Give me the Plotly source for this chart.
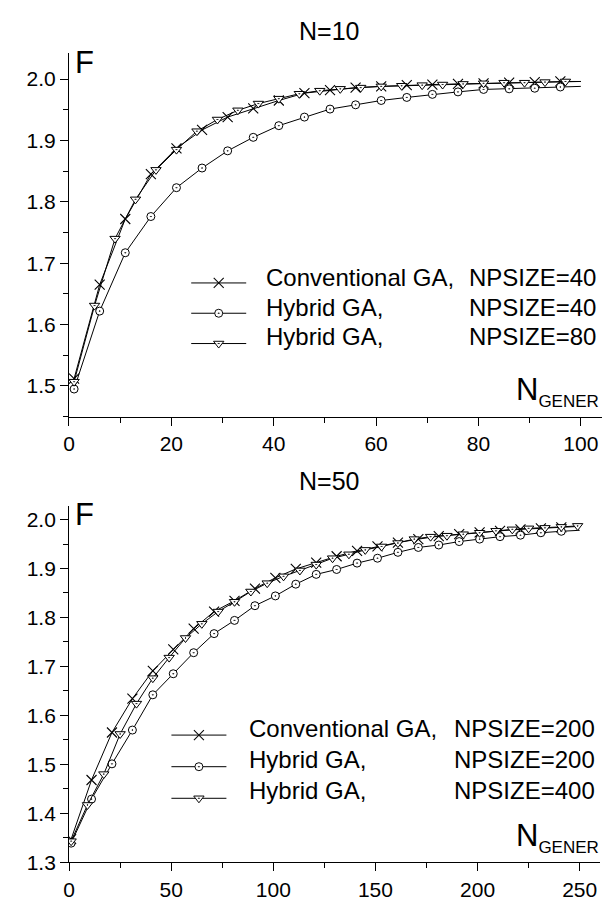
import plotly.graph_objects as go

# ---------------- data ----------------
# Top panel, N=10
top_conv_x = [1, 6, 11, 16, 21, 26, 31, 36, 41, 46, 51, 56, 61, 66, 71, 76, 81, 86, 91, 96, 100]
top_conv_F = [1.512, 1.665, 1.772, 1.845, 1.887, 1.917, 1.938, 1.952, 1.965, 1.977, 1.982, 1.986,
              1.988, 1.990, 1.991, 1.992, 1.993, 1.994, 1.995, 1.996, 1.996]
top_hyb_x = [1, 6, 11, 16, 21, 26, 31, 36, 41, 46, 51, 56, 61, 66, 71, 76, 81, 86, 91, 96, 100]
top_hyb_F = [1.495, 1.622, 1.717, 1.776, 1.823, 1.855, 1.883, 1.905, 1.924, 1.938, 1.951, 1.958,
             1.965, 1.970, 1.975, 1.979, 1.983, 1.984, 1.985, 1.987, 1.988]
top_hyb2_x = [1, 5, 9, 13, 17, 21, 25, 29, 33, 37, 41, 45, 49, 53, 57, 61, 65, 69, 73, 77, 81, 85,
              89, 93, 97, 100]
top_hyb2_F = [1.507, 1.631, 1.740, 1.804, 1.852, 1.885, 1.915, 1.934, 1.949, 1.960, 1.968, 1.976,
              1.981, 1.984, 1.986, 1.988, 1.989, 1.990, 1.991, 1.992, 1.993, 1.994, 1.994, 1.995,
              1.996, 1.996]

# Bottom panel, N=50
bot_conv_x = [1, 11, 21, 31, 41, 51, 61, 71, 81, 91, 101, 111, 121, 131, 141, 151, 161, 171, 181,
              191, 201, 211, 221, 231, 241, 250]
bot_conv_F = [1.347, 1.468, 1.565, 1.634, 1.691, 1.735, 1.777, 1.812, 1.834, 1.859, 1.881, 1.899,
              1.912, 1.925, 1.936, 1.945, 1.953, 1.960, 1.966, 1.970, 1.974, 1.977, 1.980, 1.982,
              1.984, 1.986]
bot_hyb_x = [1, 11, 21, 31, 41, 51, 61, 71, 81, 91, 101, 111, 121, 131, 141, 151, 161, 171, 181,
             191, 201, 211, 221, 231, 241, 250]
bot_hyb_F = [1.339, 1.429, 1.501, 1.570, 1.642, 1.685, 1.728, 1.767, 1.794, 1.824, 1.844, 1.868,
             1.888, 1.898, 1.911, 1.921, 1.933, 1.943, 1.948, 1.955, 1.960, 1.965, 1.968, 1.973,
             1.976, 1.978]
bot_hyb2_x = [1, 9, 17, 25, 33, 41, 49, 57, 65, 73, 81, 89, 97, 105, 113, 121, 129, 137, 145, 153,
              161, 169, 177, 185, 193, 201, 209, 217, 225, 233, 241, 249, 250]
bot_hyb2_F = [1.343, 1.417, 1.480, 1.562, 1.624, 1.676, 1.718, 1.758, 1.787, 1.812, 1.832, 1.853,
              1.870, 1.884, 1.896, 1.908, 1.921, 1.929, 1.938, 1.945, 1.952, 1.960, 1.965, 1.967,
              1.970, 1.973, 1.977, 1.980, 1.982, 1.983, 1.985, 1.987, 1.987]

top_labels = ["Conventional GA,", "Hybrid GA,", "Hybrid GA,"]
top_sizes = ["NPSIZE=40", "NPSIZE=40", "NPSIZE=80"]
bot_labels = ["Conventional GA,", "Hybrid GA,", "Hybrid GA,"]
bot_sizes = ["NPSIZE=200", "NPSIZE=200", "NPSIZE=400"]

# ---------------- layout helpers ----------------
W, H = 612, 913
FONT = "Liberation Sans, Arial, Helvetica, sans-serif"


def fx(p):
    return p / W


def fy(p):
    return (H - p) / H


STYLES = [
    dict(symbol="x-thin", size=10, color="black", line=dict(width=1.1, color="black")),
    dict(symbol="circle-dot", size=8, color="white", line=dict(width=1, color="black")),
    dict(symbol="triangle-down-dot", size=9, color="white", line=dict(width=1, color="black")),
]

fig = go.Figure()

panels = [
    ("x", "y", "legend", [(top_conv_x, top_conv_F), (top_hyb_x, top_hyb_F), (top_hyb2_x, top_hyb2_F)],
     top_labels, 100),
    ("x2", "y2", "legend2", [(bot_conv_x, bot_conv_F), (bot_hyb_x, bot_hyb_F), (bot_hyb2_x, bot_hyb2_F)],
     bot_labels, 250),
]

for xa, ya, lg, series, labels, xend in panels:
    for (xs, ys), st, lab in zip(series, STYLES, labels):
        op = [1] * len(xs)
        # trailing line end (x = axis end) carries no marker
        if xs[-1] == xend and (xs[-1] - xs[-2]) < (xs[1] - xs[0]):
            op[-1] = 0
        m = dict(st)
        m["opacity"] = op
        fig.add_trace(go.Scatter(
            x=xs, y=ys, mode="lines+markers", xaxis=xa, yaxis=ya, legend=lg,
            name="\u00a0", meta=lab,
            line=dict(color="black", width=1), marker=m,
        ))

axis_common = dict(
    showline=True, linecolor="black", linewidth=1, mirror=False,
    ticks="outside", tickcolor="black", tickwidth=1, ticklen=8,
    showgrid=False, zeroline=False,
    tickfont=dict(family=FONT, size=21, color="black"),
)

fig.update_layout(
    width=W, height=H,
    margin=dict(l=0, r=0, t=0, b=0),
    paper_bgcolor="white", plot_bgcolor="white",
    font=dict(family=FONT, color="black"),
    xaxis=dict(axis_common, domain=[fx(63.6), fx(601.7)], range=[0, 104.1], tick0=0, dtick=20,
               anchor="y",
               minor=dict(dtick=10, ticks="outside", ticklen=5, tickcolor="black", showgrid=False)),
    yaxis=dict(axis_common, domain=[fy(422), fy(54)], range=[1.4496, 2.0418], tick0=0, dtick=0.1,
               tickformat=".1f", anchor="x",
               minor=dict(dtick=0.05, ticks="outside", ticklen=5, tickcolor="black", showgrid=False)),
    xaxis2=dict(axis_common, domain=[fx(63.7), fx(600)], range=[0, 260], tick0=0, dtick=50,
                anchor="y2",
                minor=dict(dtick=25, ticks="outside", ticklen=5, tickcolor="black", showgrid=False)),
    yaxis2=dict(axis_common, domain=[fy(873), fy(512)], range=[1.2995, 2.028], tick0=0, dtick=0.1,
                tickformat=".1f", anchor="x2",
                minor=dict(dtick=0.05, ticks="outside", ticklen=5, tickcolor="black", showgrid=False)),
    legend=dict(x=fx(182), y=fy(266), xanchor="left", yanchor="top", bgcolor="rgba(0,0,0,0)",
                font=dict(family=FONT, size=21), tracegroupgap=0, itemwidth=55),
    legend2=dict(x=fx(162), y=fy(723), xanchor="left", yanchor="top", bgcolor="rgba(0,0,0,0)",
                 font=dict(family=FONT, size=22), tracegroupgap=0, itemwidth=55),
    showlegend=True,
)

ann = []
# titles
ann.append(dict(text="N=10", x=fx(326), y=fy(31), xref="paper", yref="paper", showarrow=False,
                font=dict(family=FONT, size=25), xanchor="center", yanchor="middle"))
ann.append(dict(text="N=50", x=fx(326), y=fy(487), xref="paper", yref="paper", showarrow=False,
                font=dict(family=FONT, size=25), xanchor="center", yanchor="middle"))
# F labels
for yc in (63, 521):
    ann.append(dict(text="F", x=fx(68), y=fy(yc), xref="paper", yref="paper", showarrow=False,
                    font=dict(family=FONT, size=31), xanchor="left", yanchor="middle"))
# N_GENER labels
for yb in (418, 869):
    ann.append(dict(text="N<sub><span style='font-size:17px'>GENER</span></sub>", x=fx(601), y=fy(yb),
                    xref="paper", yref="paper", showarrow=False,
                    font=dict(family=FONT, size=31), xanchor="right", yanchor="bottom"))
# legend texts (two columns, the second right-aligned)
top_rows = [281, 311, 341]
bot_rows = [737, 768.5, 800]
for rows, labels, sizes, xl, xr in ((top_rows, top_labels, top_sizes, 261, 598),
                                    (bot_rows, bot_labels, bot_sizes, 243, 597)):
    for yc, lab, sz in zip(rows, labels, sizes):
        ann.append(dict(text=lab, x=fx(xl), y=fy(yc), xref="paper", yref="paper", showarrow=False,
                        font=dict(family=FONT, size=24), xanchor="left", yanchor="middle"))
        ann.append(dict(text=sz, x=fx(xr), y=fy(yc), xref="paper", yref="paper", showarrow=False,
                        font=dict(family=FONT, size=24), xanchor="right", yanchor="middle"))
fig.update_layout(annotations=ann)

fig.write_html("out.html")
